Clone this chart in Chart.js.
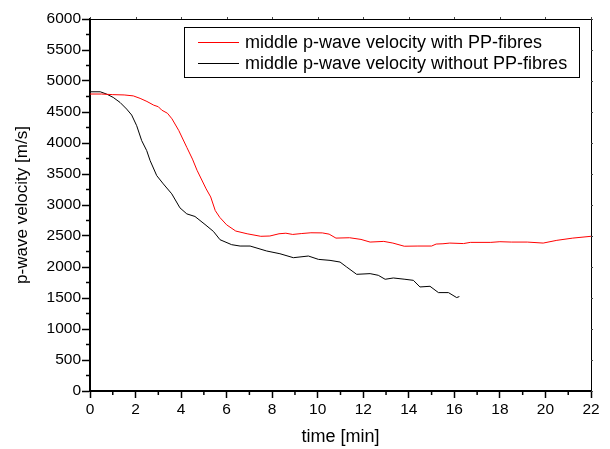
<!DOCTYPE html>
<html lang="en">
  <head>
    <meta charset="UTF-8" />
    <title>p-wave velocity</title>
    <script src="https://cdn.jsdelivr.net/npm/chart.js@4.4.0/dist/chart.umd.min.js"></script>
    <style>
      body { margin: 0; background: #fff; }
      #wrap { width: 610px; height: 449px; }
    </style>
  </head>
  <body>
    <div id="wrap"><canvas id="chart" width="610" height="449"></canvas></div>
    <script>
      const withX = [0, 0.5, 1, 1.5, 1.9, 2.2, 2.5, 2.8, 3.0, 3.15, 3.4, 3.6, 3.9, 4.25, 4.5, 4.7, 5.1, 5.3, 5.5, 5.7, 6.0, 6.4, 6.9, 7.5, 7.9, 8.3, 8.6, 8.9, 9.3, 9.7, 10.2, 10.5, 10.8, 11.4, 11.9, 12.3, 12.9, 13.3, 13.8, 14.4, 15.0, 15.2, 15.5, 15.8, 16.4, 16.7, 17.6, 18.0, 18.5, 19.2, 19.9, 20.5, 21.2, 22.0]
      const withY = [4790, 4790, 4780, 4775, 4760, 4720, 4670, 4610, 4585, 4530, 4480, 4390, 4200, 3930, 3740, 3560, 3260, 3130, 2910, 2800, 2680, 2580, 2536, 2495, 2500, 2536, 2545, 2525, 2540, 2552, 2550, 2530, 2466, 2472, 2445, 2402, 2413, 2386, 2335, 2338, 2338, 2370, 2375, 2386, 2378, 2397, 2397, 2408, 2402, 2402, 2386, 2430, 2466, 2495]
      const withoutX = [0, 0.45, 0.73, 1.02, 1.32, 1.61, 1.83, 2.05, 2.27, 2.49, 2.64, 2.93, 3.22, 3.59, 3.95, 4.25, 4.61, 5.05, 5.42, 5.71, 6.22, 6.59, 7.03, 7.76, 8.34, 8.93, 9.59, 10.03, 10.54, 10.98, 11.27, 11.71, 12.3, 12.66, 12.96, 13.32, 13.83, 14.2, 14.49, 14.93, 15.3, 15.74, 16.1, 16.22]
      const withoutY = [4826, 4826, 4789, 4735, 4654, 4547, 4451, 4279, 4038, 3877, 3716, 3474, 3340, 3180, 2954, 2857, 2815, 2686, 2574, 2440, 2360, 2338, 2338, 2258, 2214, 2150, 2177, 2123, 2107, 2080, 2000, 1882, 1893, 1866, 1802, 1823, 1802, 1785, 1678, 1689, 1587, 1587, 1507, 1523]
      const seriesLabels = ['middle p-wave velocity with PP-fibres', 'middle p-wave velocity without PP-fibres']
      const xTicks = [0, 2, 4, 6, 8, 10, 12, 14, 16, 18, 20, 22]
      const yTicks = [0, 500, 1000, 1500, 2000, 2500, 3000, 3500, 4000, 4500, 5000, 5500, 6000]

      const FONT = 'Liberation Sans, Arial, sans-serif'

      function pts(xs, ys) {
        return xs.map((x, i) => ({ x: x, y: ys[i] }))
      }

      // box on top/right, minor ticks, legend
      const framePlugin = {
        id: 'frame',
        afterDraw(chart) {
          const ctx = chart.ctx
          const a = chart.chartArea
          const xs = chart.scales.x
          const ys = chart.scales.y
          ctx.save()
          ctx.strokeStyle = '#000'
          ctx.lineWidth = 1
          ctx.beginPath()
          ctx.moveTo(a.left, a.top + 0.5)
          ctx.lineTo(a.right + 0.5, a.top + 0.5)
          ctx.lineTo(a.right + 0.5, a.bottom)
          ctx.stroke()

          ctx.lineWidth = 1.5
          ctx.beginPath()
          for (let v = 1; v < 22; v += 2) {
            const px = xs.getPixelForValue(v)
            ctx.moveTo(px, a.bottom)
            ctx.lineTo(px, a.bottom + 4)
          }
          for (let v = 250; v < 6000; v += 500) {
            const py = ys.getPixelForValue(v)
            ctx.moveTo(a.left, py)
            ctx.lineTo(a.left - 4, py)
          }
          ctx.stroke()

          ctx.lineWidth = 1
          ctx.strokeStyle = '#444'
          ctx.beginPath()
          xTicks.forEach((v) => {
            const px = Math.round(xs.getPixelForValue(v)) + 0.5
            ctx.moveTo(px, a.top)
            ctx.lineTo(px, a.top - 2)
          })
          yTicks.forEach((v) => {
            const py = Math.round(ys.getPixelForValue(v)) + 0.5
            ctx.moveTo(a.right, py)
            ctx.lineTo(a.right + 2, py)
          })
          ctx.stroke()

          // legend
          const bx = 184.5, by = 27.5, bw = 395, bh = 50
          ctx.fillStyle = '#fff'
          ctx.fillRect(bx, by, bw, bh)
          ctx.strokeStyle = '#000'
          ctx.lineWidth = 1
          ctx.strokeRect(bx, by, bw, bh)
          ctx.font = '18px ' + FONT
          ctx.textBaseline = 'middle'
          chart.data.datasets.forEach((ds, i) => {
            const ly = 42.5 + i * 21
            ctx.strokeStyle = ds.borderColor
            ctx.lineWidth = 1
            ctx.beginPath()
            ctx.moveTo(198, ly)
            ctx.lineTo(239, ly)
            ctx.stroke()
            ctx.fillStyle = '#000'
            ctx.fillText(ds.label, 245, ly + 1)
          })
          ctx.restore()
        },
      }

      const ctx = document.getElementById('chart').getContext('2d')
      const myChart = new Chart(ctx, {
        type: 'line',
        data: {
          datasets: [
            {
              label: seriesLabels[0],
              data: pts(withX, withY),
              borderColor: '#ff0000',
              borderWidth: 1,
              pointRadius: 0,
              tension: 0,
            },
            {
              label: seriesLabels[1],
              data: pts(withoutX, withoutY),
              borderColor: '#000000',
              borderWidth: 1,
              pointRadius: 0,
              tension: 0,
            },
          ],
        },
        options: {
          responsive: false,
          animation: false,
          layout: { padding: { left: 0, right: 19, top: 19, bottom: 0 } },
          plugins: { legend: { display: false }, tooltip: { enabled: false } },
          scales: {
            x: {
              type: 'linear',
              min: 0,
              max: 22,
              afterBuildTicks: (s) => { s.ticks = xTicks.map((v) => ({ value: v })) },
              afterFit: (s) => { s.height = 58 },
              grid: { drawOnChartArea: false, tickLength: 7, tickColor: '#000', tickWidth: 1.5 },
              border: { color: '#000', width: 2 },
              ticks: { color: '#000', font: { family: FONT, size: 15.5 }, padding: 2, maxRotation: 0, callback: (v) => String(v) },
              title: { display: true, text: 'time [min]', color: '#000', font: { family: FONT, size: 18 }, padding: { top: 0, bottom: 1 } },
            },
            y: {
              min: 0,
              max: 6000,
              afterBuildTicks: (s) => { s.ticks = yTicks.map((v) => ({ value: v })) },
              afterFit: (s) => { s.width = 90 },
              grid: { drawOnChartArea: false, tickLength: 8, tickColor: '#000', tickWidth: 1.5 },
              border: { color: '#000', width: 2 },
              ticks: { color: '#000', font: { family: FONT, size: 15.5 }, padding: 1, callback: (v) => String(v) },
              title: { display: true, text: 'p-wave velocity [m/s]', color: '#000', font: { family: FONT, size: 17 }, padding: { top: 12, bottom: 0 } },
            },
          },
        },
        plugins: [framePlugin],
      })
    </script>
  </body>
</html>
